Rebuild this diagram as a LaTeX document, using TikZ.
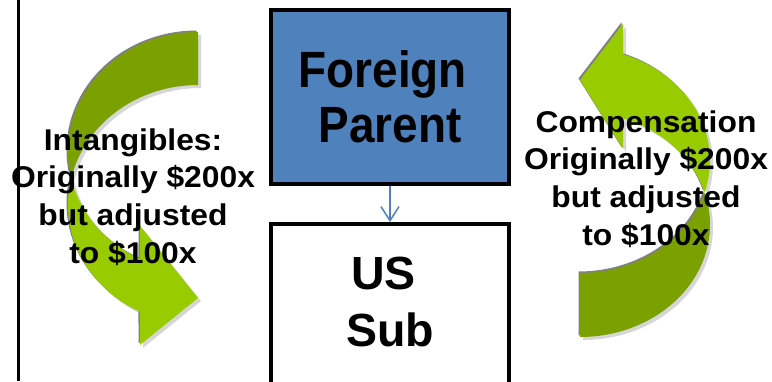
\documentclass[tikz,border=0pt]{standalone}
\usepackage{fontspec}
\setmainfont{Liberation Sans}
\newfontfamily\sidefont[FakeStretch=1.06]{Liberation Sans}
\newfontfamily\bigfont[FakeStretch=0.9]{Liberation Sans}
\usetikzlibrary{arrows.meta}
\definecolor{fpblue}{HTML}{4F81BD}
\definecolor{gdark}{HTML}{7AA100}
\definecolor{glight}{HTML}{99CC00}
\definecolor{gedge}{HTML}{808080}
\definecolor{gshadow}{HTML}{D6D6D6}
% left curved arrow: E1 centre (198,151.75), E2 centre (198,204.75), radii 130 x 119.75
\def\LD{plot[domain=270:167.2,samples=60] ({198+130*cos(\x)},{151.75+119.75*sin(\x)}) -- plot[domain=192.8:270,samples=60] ({198+130*cos(\x)},{204.75+119.75*sin(\x)}) -- cycle}
\def\LL{plot[domain=192.8:116.5,samples=60] ({198+130*cos(\x)},{204.75+119.75*sin(\x)}) -- (140,344.9) -- (198,298) -- (140,225.9) -- plot[domain=116.5:167.2,samples=40] ({198+130*cos(\x)},{151.75+119.75*sin(\x)}) -- cycle}
% right curved arrow: EA centre (580,224.5), EB centre (580,160.5), radii 130 x 112.5
\def\RD{plot[domain=90:-16.53,samples=60] ({580+130*cos(\x)},{224.5+112.5*sin(\x)}) -- plot[domain=16.53:90,samples=60] ({580+130*cos(\x)},{160.5+112.5*sin(\x)}) -- cycle}
\def\RL{plot[domain=16.53:-70.68,samples=60] ({580+130*cos(\x)},{160.5+112.5*sin(\x)}) -- (623,23.8) -- (580,80) -- (623,148.8) -- plot[domain=-70.68:-16.53,samples=40] ({580+130*cos(\x)},{224.5+112.5*sin(\x)}) -- cycle}
\begin{document}
\begin{tikzpicture}[x=1pt,y=-1pt,
  box/.style={draw=black,line width=4pt,inner sep=0pt,minimum width=238pt},
  bigtext/.style={font=\bigfont\bfseries\fontsize{51}{55}\selectfont,align=center},
  subtext/.style={font=\bfseries\fontsize{46.5}{57}\selectfont,align=center,inner sep=0pt},
  sidetext/.style={font=\sidefont\bfseries\fontsize{30}{37.8}\selectfont,align=center,inner sep=0pt},
  conn/.style={draw=fpblue,line width=1.5pt,-{Straight Barb[length=14pt,width=18pt]}}]
\useasboundingbox[fill=white] (0,0) rectangle (772,381);
% left rule
\coordinate (rt0) at (18.3,0);
\coordinate (rb0) at (18.3,381);
\draw[line width=3pt] (rt0) -- (rb0);
% arrow shadows and edges
\begin{scope}[shift={(3,3)}]
  \fill[gshadow] \LD; \fill[gshadow] \LL; \fill[gshadow] \RD; \fill[gshadow] \RL;
\end{scope}
\begin{scope}[shift={(-1.5,-1.5)}]
  \fill[gedge] \LD; \fill[gedge] \LL; \fill[gedge] \RD; \fill[gedge] \RL;
\end{scope}
\fill[gdark] \LD;
\fill[glight] \LL;
\fill[gdark] \RD;
\fill[glight] \RL;
% boxes
\node[box,fill=fpblue,minimum height=174pt,bigtext] (fp) at (390,97) {Foreign\hspace*{0.28em}\\Parent};
\node[box,fill=white,minimum height=200pt] (us) at (390,324) {};
\node[subtext] (ust) at (390,301.5) {US\hspace*{0.28em}\\Sub};
\draw[conn] (fp.south) -- (us.north);
% side labels
\node[sidetext] (lt) at (133,197) {Intangibles:\\Originally \$200x\\but adjusted\hspace*{0.3em}\\to \$100x};
\node[sidetext] (rtx) at (646,179) {Compensation\\Originally \$200x\\but adjusted\hspace*{0.3em}\\to \$100x};
\end{tikzpicture}
\end{document}
